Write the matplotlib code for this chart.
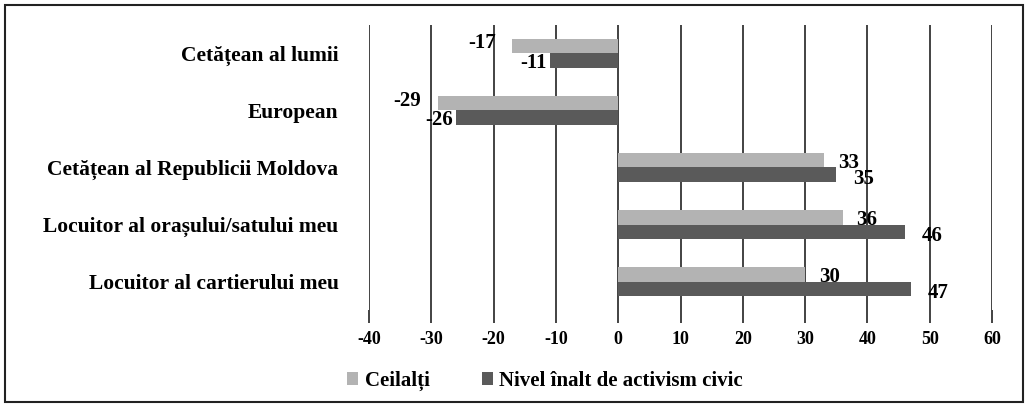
import matplotlib.pyplot as plt
import numpy as np
from matplotlib.patches import Rectangle

categories = ['Cetățean al lumii', 'European', 'Cetățean al Republicii Moldova',
              'Locuitor al orașului/satului meu', 'Locuitor al cartierului meu']
ceilalti = [-17, -29, 33, 36, 30]
activism = [-11, -26, 35, 46, 47]
series_names = ['Ceilalți', 'Nivel înalt de activism civic']
xticks = [-40, -30, -20, -10, 0, 10, 20, 30, 40, 50, 60]

plt.rcParams['font.family'] = ['Liberation Serif', 'DejaVu Serif']
plt.rcParams['font.weight'] = 'bold'

fig = plt.figure(figsize=(10.28, 4.07), dpi=100)
ax = fig.add_axes([0.359, 0.238, 0.606, 0.701])

y = np.arange(len(categories))
h = 0.25
light = '#b3b3b3'
dark = '#5a5a5a'
ax.barh(y - h / 2, ceilalti, height=h, color=light, label=series_names[0], zorder=3)
ax.barh(y + h / 2, activism, height=h, color=dark, label=series_names[1], zorder=3)

for yi, v in zip(y, ceilalti):
    off = (-12, 2) if v < 0 else (10, -2)
    ax.annotate(str(v), (v, yi - h / 2), xytext=off, textcoords='offset points',
                ha='right' if v < 0 else 'left', va='center', fontsize=15, fontweight='bold')
for yi, v in zip(y, activism):
    off = (-2, -2) if v < 0 else (12, -3)
    ax.annotate(str(v), (v, yi + h / 2), xytext=off, textcoords='offset points',
                ha='right' if v < 0 else 'left', va='center', fontsize=15, fontweight='bold')

ax.set_xlim(-40, 60)
ax.set_ylim(len(categories) - 0.5, -0.5)
ax.set_xticks(xticks)
ax.set_xticklabels([str(t) for t in xticks], fontsize=13, fontweight='bold')
ax.set_yticks(y)
ax.set_yticklabels(categories, fontsize=15.5, fontweight='bold')
ax.tick_params(axis='y', length=0, pad=22)
ax.tick_params(axis='x', length=9, width=1.2, color='#222222', pad=6)
ax.grid(axis='x', color='#222222', linewidth=1.2, zorder=0)
for s in ax.spines.values():
    s.set_visible(False)

ax.legend(loc='center', bbox_to_anchor=(0.53, 0.064), bbox_transform=fig.transFigure,
          ncol=2, frameon=False, fontsize=15, handlelength=0.55, handleheight=0.55,
          columnspacing=2.5, handletextpad=0.3)

fig.patches.append(Rectangle((0.005, 0.012), 0.99, 0.976, transform=fig.transFigure,
                             fill=False, edgecolor='#222222', linewidth=1.5))

plt.savefig('out.png', dpi=100)
